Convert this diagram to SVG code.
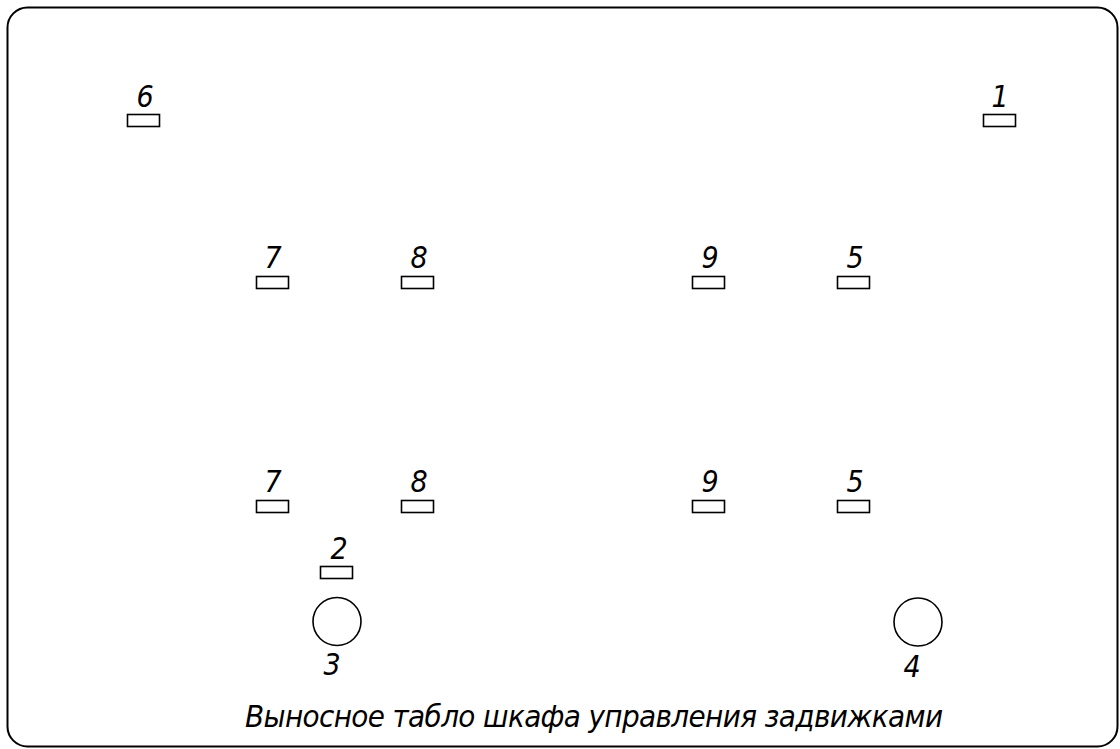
<svg xmlns="http://www.w3.org/2000/svg" width="1120" height="749" viewBox="0 0 1120 749">
<style>
.frame{fill:none;stroke:#000;stroke-width:2}
.box{fill:#fff;stroke:#000;stroke-width:1.6}
.circ{fill:#fff;stroke:#000;stroke-width:1.6}
.lbl{font-family:"DejaVu Sans Condensed","DejaVu Sans","Liberation Sans",sans-serif;font-stretch:condensed;font-style:italic;font-size:30px;font-weight:normal;fill:#000;text-anchor:middle}
.title{font-family:"DejaVu Sans Condensed","DejaVu Sans","Liberation Sans",sans-serif;font-stretch:condensed;font-style:italic;font-size:31px;fill:#000}
</style>
<rect width="1120" height="749" fill="#fff"/>
<rect class="frame" x="7.5" y="7.5" width="1110" height="739" rx="20" ry="20"/>
<g id="connectors"/>
<g id="n6"><rect class="box" x="127.5" y="114.5" width="32" height="12"/><text class="lbl" x="145" y="107">6</text></g>
<g id="n1"><rect class="box" x="983.5" y="114.5" width="32" height="12"/><text class="lbl" x="1000" y="107">1</text></g>
<g id="n7a"><rect class="box" x="256.5" y="276.5" width="32" height="12"/><text class="lbl" x="273" y="268">7</text></g>
<g id="n8a"><rect class="box" x="401.5" y="276.5" width="32" height="12"/><text class="lbl" x="419" y="268">8</text></g>
<g id="n9a"><rect class="box" x="692.5" y="276.5" width="32" height="12"/><text class="lbl" x="710" y="268">9</text></g>
<g id="n5a"><rect class="box" x="837.5" y="276.5" width="32" height="12"/><text class="lbl" x="855" y="268">5</text></g>
<g id="n7b"><rect class="box" x="256.5" y="500.5" width="32" height="12"/><text class="lbl" x="273" y="492">7</text></g>
<g id="n8b"><rect class="box" x="401.5" y="500.5" width="32" height="12"/><text class="lbl" x="419" y="492">8</text></g>
<g id="n9b"><rect class="box" x="692.5" y="500.5" width="32" height="12"/><text class="lbl" x="710" y="492">9</text></g>
<g id="n5b"><rect class="box" x="837.5" y="500.5" width="32" height="12"/><text class="lbl" x="855" y="492">5</text></g>
<g id="n2"><rect class="box" x="320.5" y="566.5" width="32" height="12"/><text class="lbl" x="339" y="559">2</text></g>
<g id="n3"><circle class="circ" cx="337" cy="621.5" r="24"/><text class="lbl" x="332" y="675">3</text></g>
<g id="n4"><circle class="circ" cx="918" cy="622" r="24"/><text class="lbl" x="912" y="677">4</text></g>
<g id="title"><text class="title" x="245" y="727" textLength="698" lengthAdjust="spacing">Выносное  табло  шкафа  управления  задвижками</text></g>
</svg>
